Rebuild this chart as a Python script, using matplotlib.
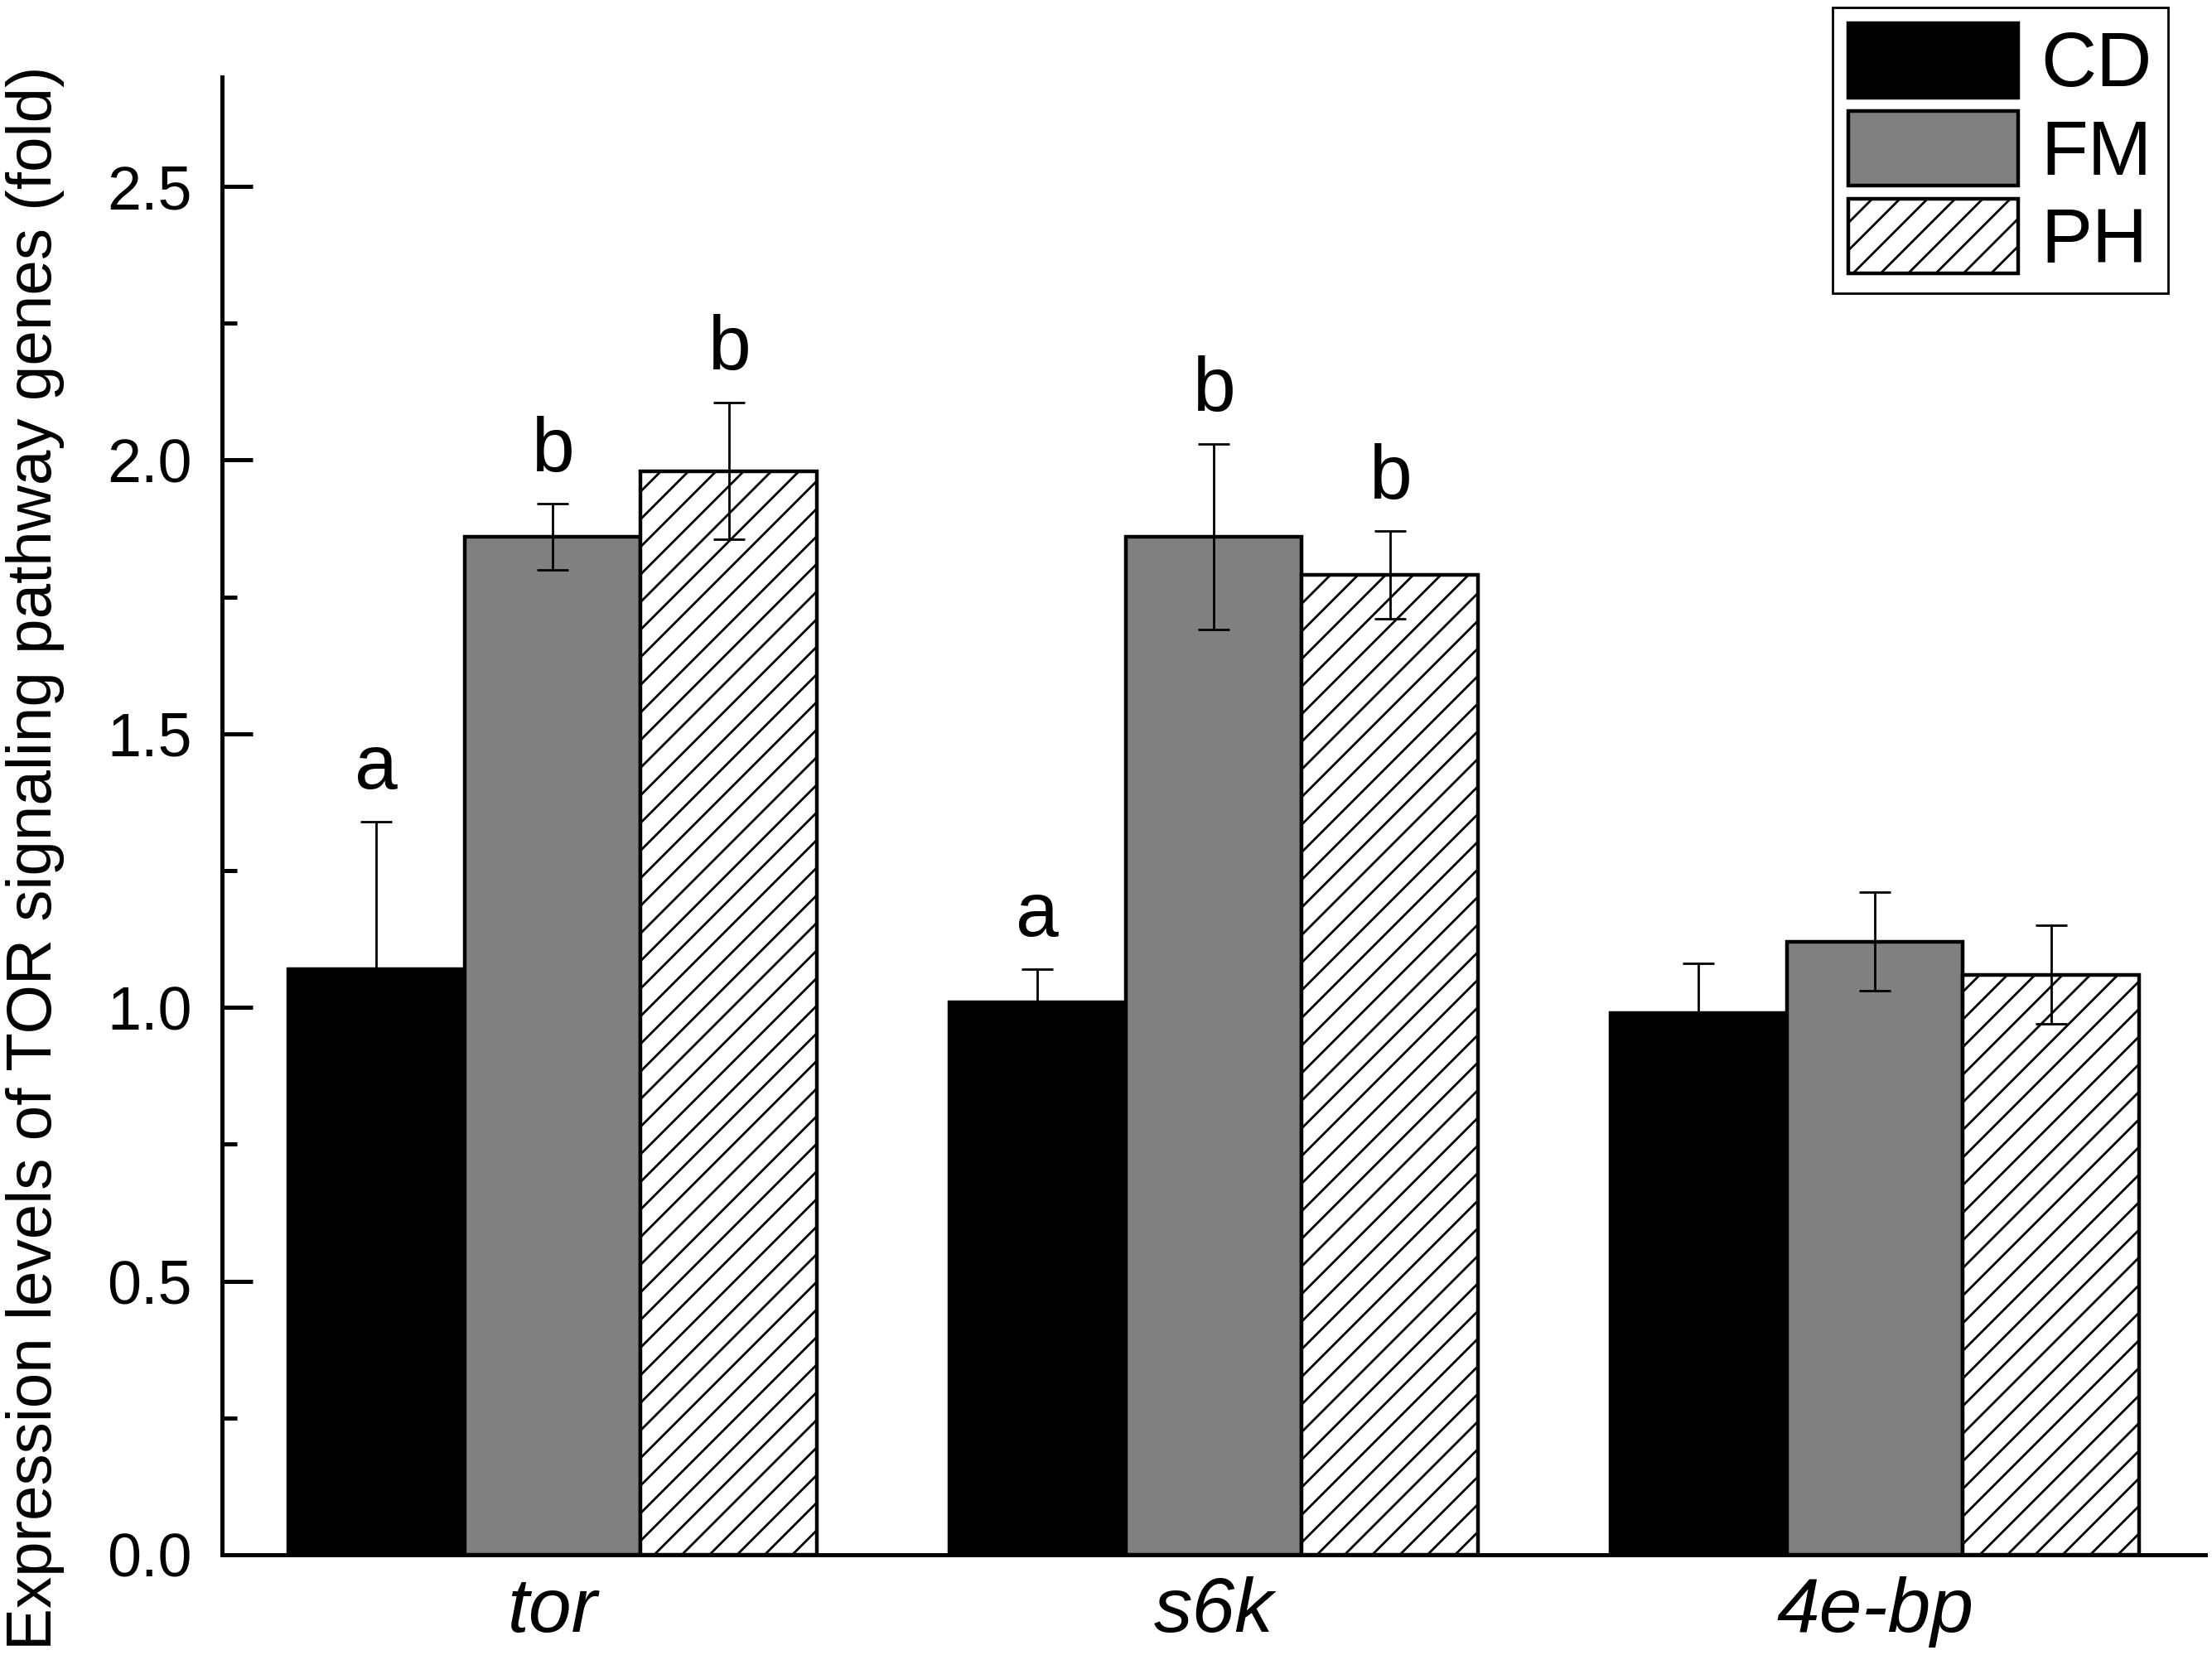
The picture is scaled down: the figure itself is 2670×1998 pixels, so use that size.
import numpy as np
import matplotlib
matplotlib.use("Agg")
import matplotlib.pyplot as plt
from matplotlib.ticker import MultipleLocator


# DATA

genes = ["tor", "s6k", "4e-bp"]
groups = ["CD", "FM", "PH"]

cd_mean = [1.07, 1.01, 0.99]
fm_mean = [1.86, 1.86, 1.12]
ph_mean = [1.98, 1.79, 1.06]

cd_err = [0.27, 0.06, 0.09]
fm_err = [0.06, 0.17, 0.09]
ph_err = [0.125, 0.08, 0.09]

cd_letters = ["a", "a", ""]
fm_letters = ["b", "b", ""]
ph_letters = ["b", "b", ""]


# STYLE

plt.rcParams["font.family"] = ["Liberation Sans", "DejaVu Sans"]
plt.rcParams["hatch.linewidth"] = 1.0

fig = plt.figure(figsize=(13.35, 9.99), dpi=200)
ax = fig.add_axes([0.1004, 0.0606, 0.8966, 0.8929])

x = np.arange(len(genes))
width = 0.8 / 3

series = [
    (cd_mean, cd_err, cd_letters, "black", None),
    (fm_mean, fm_err, fm_letters, "#808080", None),
    (ph_mean, ph_err, ph_letters, "white", "//"),
]

for i, (means, errs, letters, color, hatch) in enumerate(series):
    xpos = x + (i - 1) * width
    ax.bar(xpos, means, width, color=color, edgecolor="black",
           linewidth=1.6, hatch=hatch, label=groups[i], zorder=1)
    ax.errorbar(xpos, means, yerr=errs, fmt="none", ecolor="black",
                elinewidth=1.0, capsize=6.7, capthick=1.0, zorder=3)
    # significance letters above the error bars
    for xp, m, e, lab in zip(xpos, means, errs, letters):
        if lab:
            ax.text(xp, m + e + 0.06, lab, ha="center", va="baseline",
                    fontsize=33.5)

# AXES

ax.set_xlim(-0.5, 2.5)
ax.set_ylim(0, 2.7)

for side in ["top", "right"]:
    ax.spines[side].set_visible(False)
for side in ["left", "bottom"]:
    ax.spines[side].set_linewidth(1.8)

ax.yaxis.set_major_locator(MultipleLocator(0.5))
ax.yaxis.set_minor_locator(MultipleLocator(0.25))
ax.tick_params(axis="y", which="major", direction="in", length=13.3,
               width=1.8, pad=13, labelsize=26.5)
ax.tick_params(axis="y", which="minor", direction="in", length=6.5,
               width=1.8)
ax.yaxis.set_major_formatter(plt.FuncFormatter(lambda v, p: f"{v:.1f}"))

ax.set_xticks(x)
ax.set_xticklabels(genes, fontsize=33.5, style="italic")
ax.tick_params(axis="x", length=0, pad=9.5)

fig.text(0.0161, 1 - 1036 / 1998,
         "Expression levels of TOR signaling pathway genes (fold)",
         rotation=90, ha="center", va="center", fontsize=27.5)

leg = ax.legend(loc="upper right", bbox_to_anchor=(0.980, 0.9955),
                bbox_transform=fig.transFigure, fontsize=33.5,
                handlelength=2.2, handleheight=1.12, labelspacing=0.11,
                handletextpad=0.3, borderpad=0.2, borderaxespad=0,
                fancybox=False, framealpha=1)
leg.get_frame().set_edgecolor("black")
leg.get_frame().set_linewidth(1.0)

fig.savefig("out.png", dpi=200)
